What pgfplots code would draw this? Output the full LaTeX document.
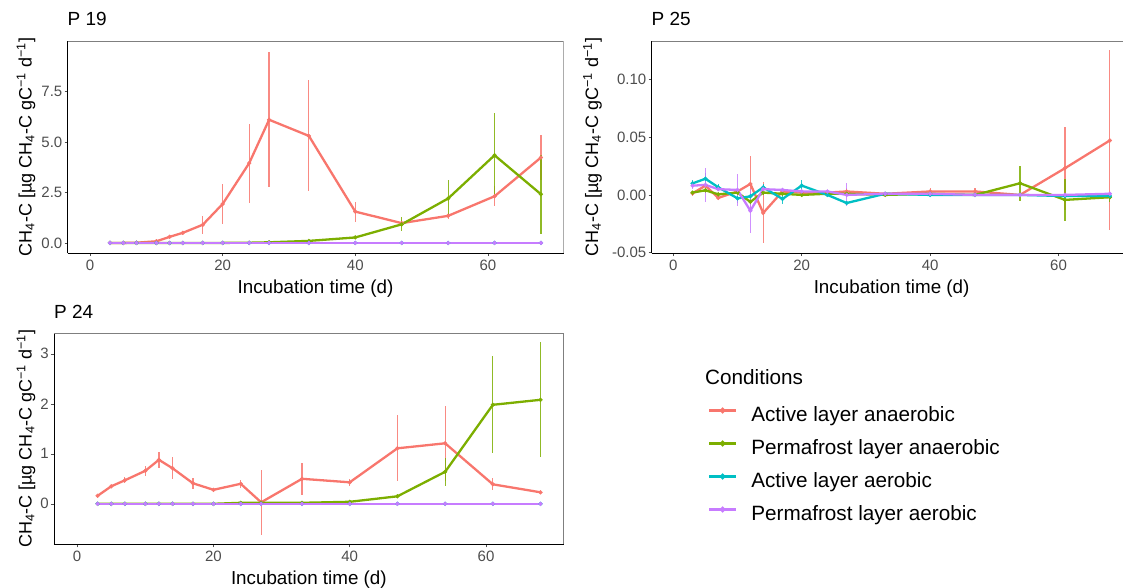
\documentclass[border=0pt]{standalone}
\usepackage{fontspec}
\setmainfont{Liberation Sans}
\usepackage{pgfplots}
\usepackage{pgfplotstable}
\pgfplotsset{compat=1.18}
\definecolor{cred}{HTML}{F8766D}
\definecolor{cgreen}{HTML}{7CAE00}
\definecolor{ccyan}{HTML}{00BFC4}
\definecolor{cpurple}{HTML}{C77CFF}
\definecolor{tickgray}{HTML}{4D4D4D}
\definecolor{bordergray}{HTML}{7F7F7F}

% ---------- P19 ----------
\pgfplotstableread{
x y e
3 0 0
5 0 0
7 0.01 0
10 0.08 0.05
12 0.30 0.05
14 0.50 0.10
17 0.90 0.44
20 1.93 1.00
24 3.95 1.95
27 6.10 3.35
33 5.30 2.75
40 1.55 0.50
47 0.98 0.15
54 1.34 0.15
61 2.31 0.50
68 4.23 1.10
}\ANred
\pgfplotstableread{
x y e
3 0 0
5 0 0
7 0 0
10 0 0
12 0 0
14 0 0
17 0 0
20 0 0
24 0.01 0
27 0.03 0
33 0.10 0.03
40 0.27 0.05
47 0.92 0.35
54 2.20 0.90
61 4.34 2.10
68 2.41 1.95
}\ANgreen
\pgfplotstableread{
x y e
3 0 0
5 0 0
7 0 0
10 0 0
12 0 0
14 0 0
17 0 0
20 0 0
24 0 0
27 0 0
33 0 0
40 0 0
47 0 0
54 0 0
61 0 0
68 0 0
}\zeroTab

% ---------- P24 ----------
\pgfplotstableread{
x y e
3 0.16 0.02
5 0.35 0.03
7 0.47 0.06
10 0.66 0.10
12 0.88 0.16
14 0.71 0.22
17 0.41 0.11
20 0.28 0.03
24 0.40 0.08
27 0.03 0.645
33 0.50 0.32
40 0.43 0.07
47 1.11 0.66
54 1.21 0.75
61 0.39 0.12
68 0.23 0.03
}\CNred
\pgfplotstableread{
x y e
3 0 0
5 0 0
7 0 0
10 0 0
12 0 0
14 0 0
17 0 0
20 0 0
24 0.02 0
27 0.02 0
33 0.02 0
40 0.04 0.01
47 0.15 0.02
54 0.64 0.28
61 1.98 0.97
68 2.08 1.15
}\CNgreen

% ---------- P25 ----------
\pgfplotstableread{
x y e
3 0.0014 0.002
5 0.0080 0.004
7 -0.0026 0.002
10 0.0030 0.002
12 0.0095 0.0245
14 -0.0156 0.0264
17 0.0030 0.002
20 0.0020 0.002
24 0.0020 0.001
27 0.0030 0.003
33 0.0010 0.001
40 0.0030 0.003
47 0.0030 0.003
54 0.0000 0.001
61 0.0231 0.036
68 0.0472 0.078
}\BNred
\pgfplotstableread{
x y e
3 0.0020 0.001
5 0.0040 0.002
7 0.0005 0.001
10 0.0020 0.002
12 -0.0060 0.003
14 0.0020 0.002
17 0.0010 0.001
20 0.0000 0.001
24 0.0010 0.001
27 0.0010 0.001
33 0.0000 0.001
40 0.0010 0.001
47 0.0000 0.001
54 0.0101 0.0153
61 -0.0043 0.018
68 -0.0020 0.004
}\BNgreen
\pgfplotstableread{
x y e
3 0.0100 0.003
5 0.0140 0.005
7 0.0066 0.003
10 -0.0030 0.004
12 -0.0012 0.003
14 0.0066 0.003
17 -0.0035 0.004
20 0.0081 0.005
24 0.0000 0.001
27 -0.0070 0.002
33 0.0010 0.001
40 0.0000 0.001
47 0.0000 0.001
54 0.0000 0.001
61 -0.0010 0.001
68 -0.0010 0.001
}\BNcyan
\pgfplotstableread{
x y e
3 0.0080 0.003
5 0.0087 0.015
7 0.0050 0.002
10 0.0043 0.014
12 -0.0137 0.019
14 0.0050 0.002
17 0.0043 0.002
20 0.0030 0.002
24 0.0030 0.001
27 0.0000 0.010
33 0.0010 0.001
40 0.0010 0.001
47 0.0000 0.001
54 0.0000 0.001
61 0.0000 0.001
68 0.0010 0.001
}\BNpurple

\newcommand{\ylab}{CH\textsubscript{4}-C [µg CH\textsubscript{4}-C gC\textsuperscript{−1} d\textsuperscript{−1}]}

\pgfplotsset{
  panel/.style={
    scale only axis,
    axis lines=left,
    axis line style={-, black, line width=0.7pt},
    xmin=-3.4, xmax=71.4,
    xtick={0,20,40,60},
    tick align=outside,
    major tick length=3pt,
    tick style={color=tickgray, line width=0.6pt},
    ticklabel style={font=\fontsize{15}{18}\selectfont, text=tickgray},
    yticklabel style={inner xsep=2pt},
    /pgf/number format/assume math mode=true,
    xlabel={Incubation time (d)},
    xlabel style={font=\fontsize{18.8}{22}\selectfont, at={(axis description cs:0.5,0)}, anchor=base, yshift=-40pt},
    ylabel={\ylab},
    ylabel style={font=\fontsize{18}{22}\selectfont, anchor=center},
    title style={font=\fontsize{19}{22}\selectfont, at={(axis description cs:0,1)}, anchor=base west, inner sep=0pt, yshift=9pt},
    every axis plot/.append style={line width=2.3pt, mark=*, mark size=1.9pt,
      mark options={line width=0.5pt},
      error bars/y dir=both, error bars/y explicit, error bars/error mark=none,
      error bars/error bar style={line width=1.2pt, opacity=0.85}},
  },
}

\begin{document}
\begin{tikzpicture}
\useasboundingbox (0,0) rectangle (1123pt,587pt);

% P19
\begin{axis}[panel, at={(67.5pt,334pt)}, anchor=south west,
  width=496pt, height=212pt,
  ymin=-0.5, ymax=10.0, ytick={0,2.5,5,7.5},
  yticklabel style={/pgf/number format/.cd, fixed, fixed zerofill, precision=1},
  ylabel style={at={(axis description cs:-0.0838,0.5)}},
  title={P 19}]
\addplot[cred] table[x=x,y=y,y error=e] {\ANred};
\addplot[cgreen] table[x=x,y=y,y error=e] {\ANgreen};
\addplot[ccyan] table[x=x,y=y,y error=e] {\zeroTab};
\addplot[cpurple] table[x=x,y=y,y error=e] {\zeroTab};
\draw[bordergray, line width=0.6pt] (rel axis cs:0,1) -- (rel axis cs:1,1) -- (rel axis cs:1,0);
\end{axis}

% P25
\begin{axis}[panel, at={(651.5pt,334pt)}, anchor=south west,
  width=480.2pt, height=212pt,
  ymin=-0.0503, ymax=0.1333, ytick={-0.05,0,0.05,0.1},
  yticklabel style={/pgf/number format/.cd, fixed, fixed zerofill, precision=2},
  ylabel style={at={(axis description cs:-0.1229,0.5)}},
  title={P 25}]
\addplot[cred] table[x=x,y=y,y error=e] {\BNred};
\addplot[cgreen] table[x=x,y=y,y error=e] {\BNgreen};
\addplot[ccyan] table[x=x,y=y,y error=e] {\BNcyan};
\addplot[cpurple] table[x=x,y=y,y error=e] {\BNpurple};
\draw[bordergray, line width=0.6pt] (rel axis cs:0,1) -- (rel axis cs:1,1) -- (rel axis cs:1,0);
\end{axis}

% P24
\begin{axis}[panel, at={(54pt,42.7pt)}, anchor=south west,
  width=509.7pt, height=211pt, clip=false,
  ymin=-0.81, ymax=3.41, ytick={0,1,2,3},
  ylabel style={at={(axis description cs:-0.0549,0.5)}},
  title={P 24},
  legend style={draw=none, fill=none, inner sep=0pt, outer sep=0pt,
    at={(axis description cs:1.2831,0.6483)}, anchor=north west,
    font=\fontsize{20.7}{24}\selectfont, row sep=15pt, column sep=14pt,
    nodes={inner sep=0pt, text height=14pt, text depth=4pt}},
  legend cell align=left,
  legend image code/.code={
    \draw[#1, line width=2.3pt, mark=none] (0pt,6pt) -- (27pt,6pt);
    \fill[#1] (13.5pt,6pt) circle (1.7pt);
  }]
\addplot[cred] table[x=x,y=y,y error=e] {\CNred};
\addlegendentry{Active layer anaerobic}
\addplot[cgreen] table[x=x,y=y,y error=e] {\CNgreen};
\addlegendentry{Permafrost layer anaerobic}
\addplot[ccyan] table[x=x,y=y,y error=e] {\zeroTab};
\addlegendentry{Active layer aerobic}
\addplot[cpurple] table[x=x,y=y,y error=e] {\zeroTab};
\addlegendentry{Permafrost layer aerobic}
\draw[bordergray, line width=0.6pt] (rel axis cs:0,1) -- (rel axis cs:1,1) -- (rel axis cs:1,0);
\node[anchor=base west, inner sep=0pt, font=\fontsize{20.7}{24}\selectfont] at (axis description cs:1.2772,0.7597) {Conditions};
\end{axis}
\end{tikzpicture}
\end{document}
